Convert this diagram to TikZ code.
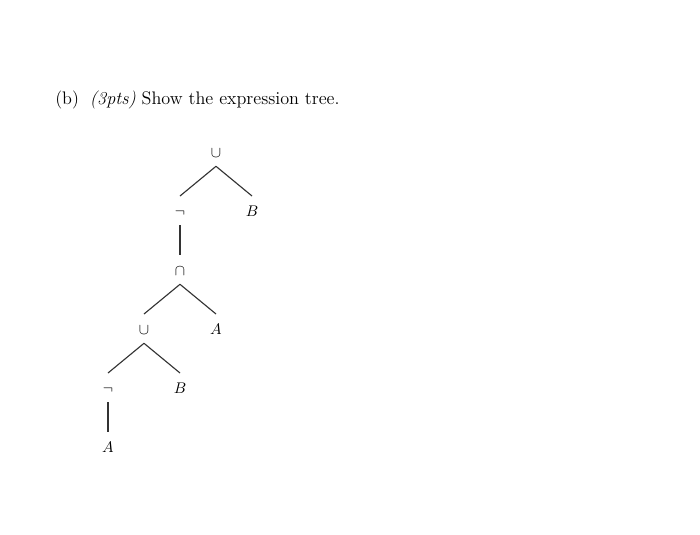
\documentclass[tikz,border=0pt]{standalone}
\begin{document}
\begin{tikzpicture}[x=0.71pt,y=-0.71pt,
  tn/.style={anchor=base,font=\fontsize{11.3}{13}\selectfont,text height=11pt,text depth=3.4pt,inner xsep=1pt,inner ysep=3pt},
  br/.style={line width=0.8pt,black!80}]
\useasboundingbox (0,0) rectangle (700,534);
\node[anchor=base west,inner sep=0pt,font=\fontsize{12.9}{15}\selectfont] (title) at (55,104) {(b)\hspace{0.6em}\textit{(3pts)} Show the expression tree.};
\node[tn] (r) at (216,157) {$\cup$};
\node[tn] (n1) at (180,216) {$\neg$};
\node[tn] (b1) at (252,216) {$B$};
\node[tn] (c) at (180,275) {$\cap$};
\node[tn] (u) at (144,334) {$\cup$};
\node[tn] (a1) at (216,334) {$A$};
\node[tn] (n2) at (108,393) {$\neg$};
\node[tn] (b2) at (180,393) {$B$};
\node[tn] (a2) at (108,452) {$A$};
\draw[br] (r.south) -- (n1.north);
\draw[br] (r.south) -- (b1.north);
\draw[br] (n1.south) -- (c.north);
\draw[br] (c.south) -- (u.north);
\draw[br] (c.south) -- (a1.north);
\draw[br] (u.south) -- (n2.north);
\draw[br] (u.south) -- (b2.north);
\draw[br] (n2.south) -- (a2.north);
\end{tikzpicture}
\end{document}
